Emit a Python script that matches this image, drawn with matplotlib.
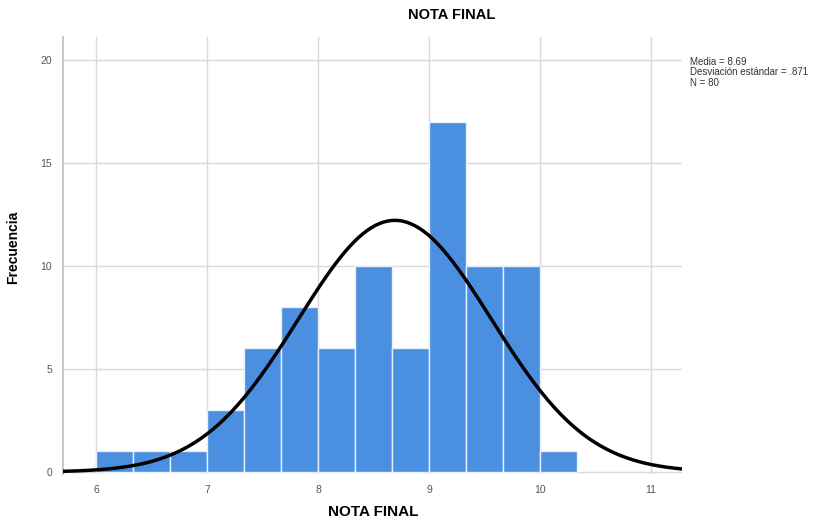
import numpy as np
import matplotlib.pyplot as plt

plt.rcParams["font.family"] = ["Liberation Sans", "DejaVu Sans"]

# histogram bins (left edges, width 1/3) and counts
bin_left = [6.0, 6.333, 6.667, 7.0, 7.333, 7.667, 8.0, 8.333, 8.667, 9.0, 9.333, 9.667, 10.0]
counts = [1, 1, 1, 3, 6, 8, 6, 10, 6, 17, 10, 10, 1]
bin_width = 1 / 3

# summary stats shown on the chart
media = 8.69
desviacion = 0.871
n_total = 80

x_ticks = [6, 7, 8, 9, 10, 11]
y_ticks = [0, 5, 10, 15, 20]

fig = plt.figure(figsize=(8.31, 5.25), dpi=100)
ax = fig.add_axes([0.076, 0.097, 0.745, 0.832])

ax.bar(bin_left, counts, width=bin_width, align="edge",
       color="#4a8fe0", edgecolor="#e8f1fb", linewidth=1.0, zorder=2)

# normal curve from the stated mean / sd
xs = np.linspace(5.70, 11.28, 300)
ys = n_total * bin_width * np.exp(-0.5 * ((xs - media) / desviacion) ** 2) / (desviacion * np.sqrt(2 * np.pi))
ax.plot(xs, ys, color="black", linewidth=2.5, zorder=3)

ax.set_xlim(5.70, 11.28)
ax.set_ylim(-0.1, 21.1)
ax.set_xticks(x_ticks)
ax.set_yticks(y_ticks)
ax.grid(True, color="#d9d9d9", linewidth=1.0, zorder=0)
ax.set_axisbelow(True)
ax.tick_params(length=0, labelsize=7.5, labelcolor="#555555", pad=8)

for side in ["top", "right", "bottom"]:
    ax.spines[side].set_visible(False)
ax.spines["left"].set_color("#c8c8c8")
ax.spines["left"].set_linewidth(1.5)

ax.set_xlabel("NOTA FINAL", fontsize=11, fontweight="bold", labelpad=7)
ax.set_ylabel("Frecuencia", fontsize=10, fontweight="bold")
ax.yaxis.set_label_coords(-0.069, 0.52)

fig.text(0.543, 0.971, "NOTA FINAL", ha="center", va="center",
         fontsize=10.5, fontweight="bold")

fig.text(0.830, 0.892,
         "Media = %.2f\nDesviación estándar = .%d\nN = %d" % (media, round(desviacion * 1000), n_total),
         ha="left", va="top", fontsize=7, color="#333333", linespacing=1.05)

fig.savefig("out.png", dpi=100)
